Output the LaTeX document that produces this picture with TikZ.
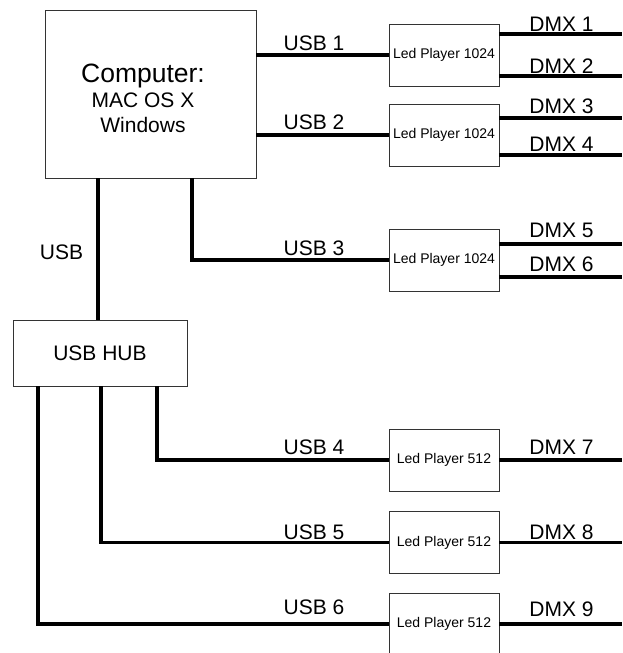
\documentclass[tikz,border=0pt]{standalone}
\usepackage{fontspec}
\setmainfont{Liberation Sans}
\usetikzlibrary{calc, positioning}

\begin{document}
\begin{tikzpicture}[x=1pt, y=-1pt,
  box/.style={draw=black!80, line width=0.9pt, inner sep=0pt},
  player/.style={box, minimum width=110pt, minimum height=62pt, font=\fontsize{14}{16}\selectfont},
  wire/.style={line width=3.2pt},
  lbl/.style={inner sep=0pt, font=\fontsize{21}{25}\selectfont}]
\useasboundingbox (0,0) rectangle (622,653);
\coordinate (rim) at (622,0);
% computer and hub
\node[box, minimum width=211pt, minimum height=168pt] (comp) at (150.5,94) {};
\node[lbl, align=center] (comptxt) at (143,98) {{\fontsize{26.5}{27}\selectfont Computer:}\\MAC OS X\\Windows};
\node[box, minimum width=174pt, minimum height=66pt, font=\fontsize{21}{25}\selectfont] (hub) at (100,353) {USB HUB};
% players
\node[player] (p1) at (444,55) {Led Player 1024};
\node[player] (p2) at (444,135) {Led Player 1024};
\node[player] (p3) at (444,260) {Led Player 1024};
\node[player] (p4) at (444,460) {Led Player 512};
\node[player] (p5) at (444,542.5) {Led Player 512};
\node[player] (p6) at (444,624) {Led Player 512};
% usb cables
\draw[wire] (p1.west) -- (p1.west -| comp.east);
\draw[wire] (p2.west) -- (p2.west -| comp.east);
\draw[wire] ([xshift=41.5pt]comp.south) |- (p3.west);
\draw[wire] ([xshift=-52.5pt]comp.south) -- ([xshift=-2pt]hub.north);
\draw[wire] ([xshift=57pt]hub.south) |- (p4.west);
\draw[wire] ([xshift=1pt]hub.south) |- (p5.west);
\draw[wire] ([xshift=-62pt]hub.south) |- (p6.west);
% dmx cables
\foreach \p/\a/\b in {p1/21/-21, p2/17/-20, p3/16/-17}{
  \draw[wire] ([yshift=\a pt]\p.east) -- ([yshift=\a pt]\p.east -| rim);
  \draw[wire] ([yshift=\b pt]\p.east) -- ([yshift=\b pt]\p.east -| rim);
}
\foreach \p in {p4, p5, p6}
  \draw[wire] (\p.east) -- (\p.east -| rim);
% labels
\node[lbl] (usb) at (61.5,252) {USB};
\node[lbl] (usb1) at (314,43) {USB 1};
\node[lbl] (usb2) at (314,122) {USB 2};
\node[lbl] (usb3) at (314,248) {USB 3};
\node[lbl] (usb4) at (314,447) {USB 4};
\node[lbl] (usb5) at (314,532) {USB 5};
\node[lbl] (usb6) at (314,607) {USB 6};
\node[lbl] (dmx1) at (561.5,24) {DMX 1};
\node[lbl] (dmx2) at (561.5,66) {DMX 2};
\node[lbl] (dmx3) at (561.5,106) {DMX 3};
\node[lbl] (dmx4) at (561.5,144) {DMX 4};
\node[lbl] (dmx5) at (561.5,230) {DMX 5};
\node[lbl] (dmx6) at (561.5,264) {DMX 6};
\node[lbl] (dmx7) at (561.5,447) {DMX 7};
\node[lbl] (dmx8) at (561.5,532) {DMX 8};
\node[lbl] (dmx9) at (561.5,609) {DMX 9};
\end{tikzpicture}
\end{document}
